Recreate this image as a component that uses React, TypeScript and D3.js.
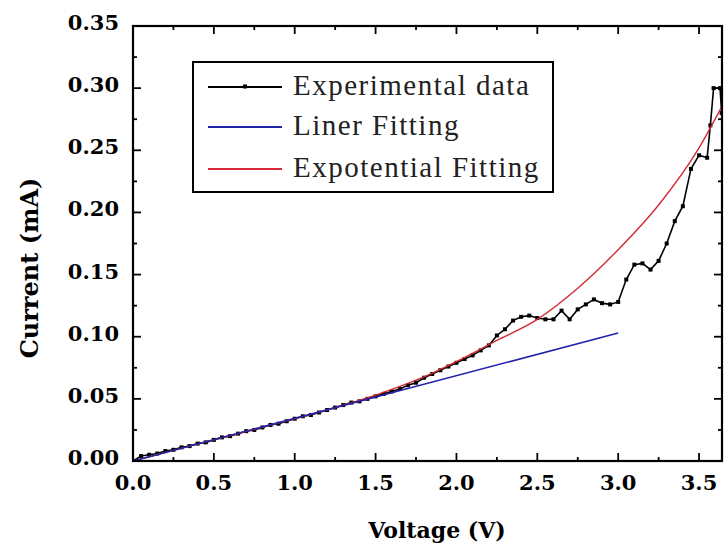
import React from "react";
import * as d3 from "d3";

// ---- data ----
const expV = [
  0.0, 0.05, 0.1, 0.15, 0.2, 0.25, 0.3, 0.35, 0.4, 0.45, 0.5, 0.55, 0.6, 0.65, 0.7, 0.75, 0.8, 0.85, 0.9, 0.95,
  1.0, 1.05, 1.1, 1.15, 1.2, 1.25, 1.3, 1.35, 1.4, 1.45, 1.5, 1.55, 1.6, 1.65, 1.7, 1.75, 1.8, 1.85, 1.9, 1.95,
  2.0, 2.05, 2.1, 2.15, 2.2, 2.25, 2.3, 2.35, 2.4, 2.45, 2.5, 2.55, 2.6, 2.65, 2.7, 2.75, 2.8, 2.85, 2.9, 2.95,
  3.0, 3.05, 3.1, 3.15, 3.2, 3.25, 3.3, 3.35, 3.4, 3.45, 3.5, 3.55, 3.57, 3.59, 3.63, 3.64,
];
const expI = [
  0.0, 0.004, 0.005, 0.006, 0.008, 0.009, 0.011, 0.012, 0.014, 0.015, 0.017, 0.019, 0.02, 0.022, 0.024, 0.025, 0.027, 0.029, 0.03, 0.032,
  0.034, 0.036, 0.037, 0.039, 0.041, 0.043, 0.045, 0.047, 0.048, 0.05, 0.052, 0.054, 0.056, 0.058, 0.061, 0.063, 0.067, 0.07, 0.073, 0.076,
  0.079, 0.082, 0.085, 0.089, 0.093, 0.101, 0.106, 0.113, 0.116, 0.117, 0.115, 0.114, 0.114, 0.121, 0.114, 0.122, 0.126, 0.13, 0.127, 0.126,
  0.128, 0.146, 0.158, 0.159, 0.154, 0.161, 0.175, 0.193, 0.205, 0.235, 0.246, 0.244, 0.27, 0.3, 0.3, 0.28,
];
const linV = [0.0, 3.0];
const linI = [0.0, 0.103];
const fitV = [0.0, 0.25, 0.5, 0.75, 1.0, 1.25, 1.5, 1.75, 2.0, 2.25, 2.5, 2.75, 3.0, 3.25, 3.5, 3.64];
const fitI = [0.0, 0.0085, 0.017, 0.0255, 0.034, 0.043, 0.053, 0.065, 0.08, 0.097, 0.114, 0.139, 0.17, 0.206, 0.252, 0.285];
const xTicks = [0.0, 0.5, 1.0, 1.5, 2.0, 2.5, 3.0, 3.5];
const xMinor = [0.25, 0.75, 1.25, 1.75, 2.25, 2.75, 3.25];
const yTicks = [0.0, 0.05, 0.1, 0.15, 0.2, 0.25, 0.3, 0.35];
const yMinor = [0.025, 0.075, 0.125, 0.175, 0.225, 0.275, 0.325];
const legendLabels = ["Experimental data", "Liner Fitting", "Expotential Fitting"];
const seriesColors = ["#000000", "#2222aa", "#d42a35"];

const W = 725;
const H = 545;
const L = 133, R = 722, T = 26, B = 461;

export default function App() {
  const x = d3.scaleLinear().domain([0, 3.642]).range([L, R]);
  const y = d3.scaleLinear().domain([0, 0.35]).range([B, T]);
  const line = d3
    .line<[number, number]>()
    .x((d) => x(d[0]))
    .y((d) => y(d[1]));
  const smooth = d3
    .line<[number, number]>()
    .x((d) => x(d[0]))
    .y((d) => y(d[1]))
    .curve(d3.curveMonotoneX);

  const expPts: [number, number][] = expV.map((v, i) => [v, expI[i]]);
  const linPts: [number, number][] = linV.map((v, i) => [v, linI[i]]);
  const fitPts: [number, number][] = fitV.map((v, i) => [v, fitI[i]]);

  const tickFont = "'DejaVu Serif', serif";
  const legendY = [87, 127, 169];

  return (
    <svg
      width={W}
      height={H}
      style={{ position: "absolute", left: 0, top: 0, background: "#fff" }}
    >
      <defs>
        <clipPath id="plot">
          <rect x={L} y={T} width={R - L} height={B - T} />
        </clipPath>
      </defs>
      <rect x={0} y={0} width={W} height={H} fill="#fff" />

      {/* data */}
      <g clipPath="url(#plot)">
        <path d={line(expPts) || ""} fill="none" stroke={seriesColors[0]} strokeWidth={1.6} />
        {expPts.map((d, i) => (
          <rect key={i} x={x(d[0]) - 2} y={y(d[1]) - 2} width={4} height={4} fill="#000" />
        ))}
        <path d={smooth(fitPts) || ""} fill="none" stroke={seriesColors[2]} strokeWidth={1.4} />
        <path d={line(linPts) || ""} fill="none" stroke={seriesColors[1]} strokeWidth={1.6} />
      </g>

      {/* ticks */}
      <g stroke="#000" strokeWidth={1.8}>
        {xTicks.map((t) => (
          <g key={"xt" + t}>
            <line x1={x(t)} x2={x(t)} y1={B} y2={B - 8} />
            <line x1={x(t)} x2={x(t)} y1={T} y2={T + 8} />
          </g>
        ))}
        {xMinor.map((t) => (
          <g key={"xm" + t}>
            <line x1={x(t)} x2={x(t)} y1={B} y2={B - 4} />
            <line x1={x(t)} x2={x(t)} y1={T} y2={T + 4} />
          </g>
        ))}
        {yTicks.map((t) => (
          <g key={"yt" + t}>
            <line x1={L} x2={L + 8} y1={y(t)} y2={y(t)} />
            <line x1={R} x2={R - 8} y1={y(t)} y2={y(t)} />
          </g>
        ))}
        {yMinor.map((t) => (
          <g key={"ym" + t}>
            <line x1={L} x2={L + 4} y1={y(t)} y2={y(t)} />
            <line x1={R} x2={R - 4} y1={y(t)} y2={y(t)} />
          </g>
        ))}
      </g>

      {/* frame */}
      <rect x={L} y={T} width={R - L} height={B - T} fill="none" stroke="#000" strokeWidth={2.2} />

      {/* tick labels */}
      <g fontFamily={tickFont} fontWeight="bold" fontSize={21} fill="#000">
        {xTicks.map((t) => (
          <text key={"xl" + t} x={x(t)} y={490} textAnchor="middle">
            {t.toFixed(1)}
          </text>
        ))}
        {yTicks.map((t) => (
          <text key={"yl" + t} x={119} y={y(t) + 4} textAnchor="end">
            {t.toFixed(2)}
          </text>
        ))}
      </g>

      {/* axis titles */}
      <text
        x={437}
        y={538}
        textAnchor="middle"
        fontFamily={tickFont}
        fontWeight="bold"
        fontSize={22}
      >
        Voltage (V)
      </text>
      <text
        transform={`translate(38, 268) rotate(-90)`}
        textAnchor="middle"
        fontFamily={tickFont}
        fontWeight="bold"
        fontSize={24}
      >
        Current (mA)
      </text>

      {/* legend */}
      <rect x={193} y={62} width={360} height={130} fill="#fff" stroke="#000" strokeWidth={2} />
      {legendLabels.map((lab, i) => (
        <g key={lab}>
          <line x1={208} x2={282} y1={legendY[i]} y2={legendY[i]} stroke={seriesColors[i]} strokeWidth={1.8} />
          {i === 0 && <rect x={243} y={legendY[i] - 2.5} width={4} height={4} fill="#000" />}
          <text
            x={293}
            y={legendY[i] + 8}
            fontFamily="'Liberation Serif', 'Times New Roman', serif"
            fontSize={29}
            letterSpacing={1.5}
            fill="#222"
          >
            {lab}
          </text>
        </g>
      ))}
    </svg>
  );
}
